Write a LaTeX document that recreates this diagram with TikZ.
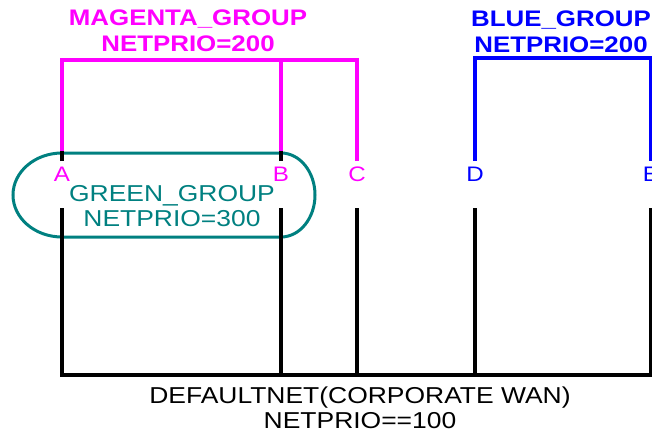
\documentclass[tikz,border=0pt]{standalone}
\usepackage{fontspec}
\setmainfont{Liberation Sans}[FakeStretch=1.15]
\usepackage{tikz}
\definecolor{grpmagenta}{RGB}{255,0,255}
\definecolor{grpblue}{RGB}{0,0,255}
\definecolor{grpteal}{RGB}{0,128,128}

\begin{document}
\begin{tikzpicture}[x=1pt, y=-1pt, line width=3.5pt,
    every node/.style={inner sep=0pt},
    magline/.style={grpmagenta},
    blueline/.style={grpblue},
    netline/.style={black},
    grptext/.style={font=\fontsize{22.5}{25.5}\selectfont\bfseries, align=center},
    nettext/.style={font=\fontsize{23}{25}\selectfont, align=center},
    hosttext/.style={font=\fontsize{21}{24}\selectfont}]
    \useasboundingbox (0,0) rectangle (652,433);

    % hosts, with the points where the lines meet them
    \foreach \name/\x/\col in {A/62/grpmagenta, B/281/grpmagenta,
        C/357/grpmagenta, D/475/grpblue, E/651/grpblue} {
      \node[hosttext, text=\col] (host\name) at (\x,174) {\name};
      \coordinate (\name-top) at (\x,161);
      \coordinate (\name-foot) at (\x,208);
      \coordinate (\name-net) at (\x,375);
    }

    % green group outline
    \draw[grpteal, line width=3pt] (62,153) -- (281,153)
      arc[start angle=-90, end angle=90, x radius=34, y radius=42]
      -- (62,237)
      arc[start angle=90, end angle=270, x radius=49, y radius=42]
      -- cycle;
    \node[nettext, text=grpteal] (green) at (172,206)
      {GREEN\_GROUP\\NETPRIO=300};

    % group labels
    \node[grptext, text=grpmagenta] (magenta) at (188,31)
      {MAGENTA\_GROUP\\NETPRIO=200};
    \node[grptext, text=grpblue] (blue) at (561,32)
      {BLUE\_GROUP\\NETPRIO=200};

    % magenta bus
    \coordinate (magbus) at (0,60);
    \draw[magline] (A-top) |- (C-top |- magbus) -- (C-top);
    \draw[magline] (B-top |- magbus) -- (B-top);
    \draw[netline] (A-top) -- ++(0,-10);
    \draw[netline] (B-top) -- ++(0,-10);

    % blue bus
    \coordinate (bluebus) at (0,58);
    \draw[blueline] (D-top) |- (E-top |- bluebus) -- (E-top);

    % default net
    \draw[netline] (A-foot) |- (E-net) -- (E-foot);
    \foreach \name in {B, C, D}
      \draw[netline] (\name-foot) -- (\name-net);
    \node[nettext] (defaultnet) at (360,408)
      {DEFAULTNET(CORPORATE WAN)\\NETPRIO==100};
\end{tikzpicture}
\end{document}
